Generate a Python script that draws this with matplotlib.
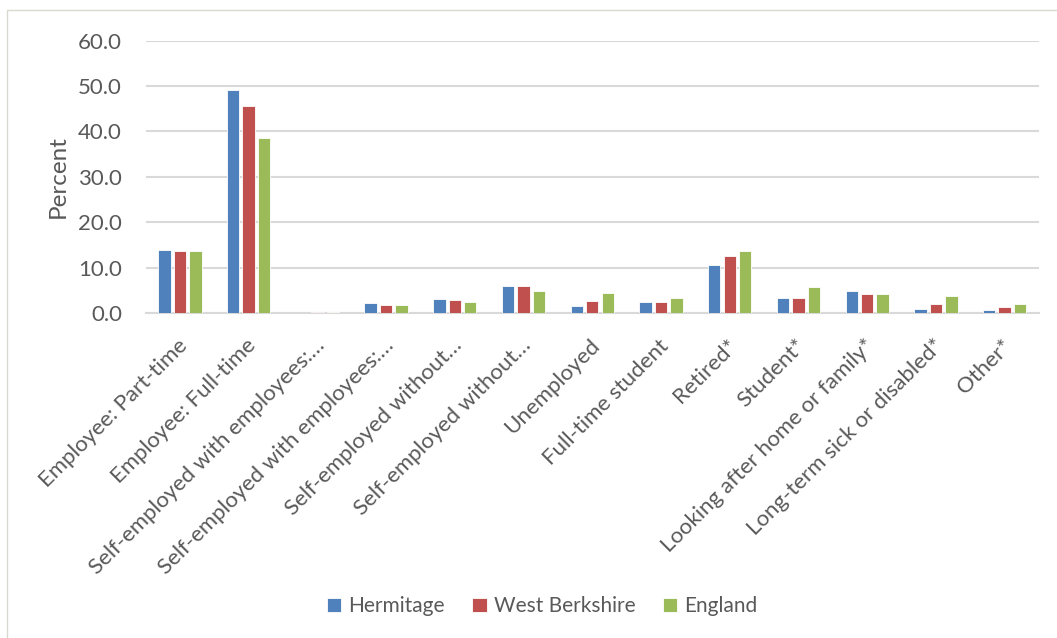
import numpy as np
import matplotlib.pyplot as plt
from matplotlib.patches import Rectangle
from matplotlib.transforms import ScaledTranslation

plt.rcParams['font.family'] = ['Lato', 'DejaVu Sans']

# ---------------------- Data ----------------------
categories = [
    "Employee: Part-time",
    "Employee: Full-time",
    "Self-employed with employees:\u2026",
    "Self-employed with employees:\u2026",
    "Self-employed without\u2026",
    "Self-employed without\u2026",
    "Unemployed",
    "Full-time student",
    "Retired*",
    "Student*",
    "Looking after home or family*",
    "Long-term sick or disabled*",
    "Other*",
]
hermitage = [13.9, 49.1, 0.0, 2.2, 3.2, 6.1, 1.5, 2.5, 10.6, 3.4, 5.0, 0.9, 0.7]
west_berkshire = [13.7, 45.6, 0.3, 1.9, 2.9, 5.9, 2.8, 2.4, 12.5, 3.4, 4.2, 2.0, 1.4]
england = [13.6, 38.6, 0.3, 1.8, 2.5, 4.9, 4.4, 3.4, 13.6, 5.7, 4.3, 3.9, 2.0]

series = [("Hermitage", hermitage, "#4F81BD"),
          ("West Berkshire", west_berkshire, "#C0504D"),
          ("England", england, "#9BBB59")]

text_col = "#595959"
grid_col = "#D9D9D9"

# ---------------------- Figure ----------------------
fig = plt.figure(figsize=(10.57, 6.38), dpi=100)
ax = fig.add_axes([0.1377, 0.509, 0.8453, 0.4275])

# outer chart frame
fig.patches.append(Rectangle((7 / 1057, -0.05), 1.2, 1 - 9.5 / 638 + 0.05,
                             transform=fig.transFigure, fill=False,
                             edgecolor="#D9D9CF", linewidth=1.0))

x = np.arange(len(categories))
width = 0.18
step = 0.225
for i, (name, vals, col) in enumerate(series):
    ax.bar(x + (i - 1) * step, vals, width, color=col, label=name,
           edgecolor="white", linewidth=0.6, zorder=3)

ax.set_xlim(-0.5, len(categories) - 0.5)
ax.set_ylim(0, 60)
ax.set_yticks(np.arange(0, 61, 10))
ax.set_yticklabels([f"{v:.1f}" for v in np.arange(0, 61, 10)])
ax.yaxis.grid(True, color=grid_col, linewidth=1.5, zorder=0)
ax.set_axisbelow(True)
for side in ["top", "right", "left"]:
    ax.spines[side].set_visible(False)
ax.spines["bottom"].set_color(grid_col)
ax.spines["bottom"].set_linewidth(1.5)
ax.tick_params(axis="y", length=0, pad=17, labelsize=16, labelcolor=text_col)
ax.tick_params(axis="x", length=0, pad=16, labelsize=16, labelcolor=text_col)

ax.set_xticks(x)
ax.set_xticklabels(categories, rotation=45, ha="right", va="top",
                   rotation_mode="anchor")
offset = ScaledTranslation(-3 / 100, 0, fig.dpi_scale_trans)
for lab in ax.get_xticklabels():
    lab.set_transform(lab.get_transform() + offset)

ax.set_ylabel("Percent", fontsize=17.5, color=text_col)
ax.yaxis.set_label_coords(-0.086, 0.5)

fig.legend(loc="center", bbox_to_anchor=(0.513, 0.05), ncol=3, frameon=False,
           fontsize=15, labelcolor=text_col, handlelength=0.7, handleheight=0.7,
           handletextpad=0.35, columnspacing=1.3)

fig.savefig("out.png", dpi=100)
